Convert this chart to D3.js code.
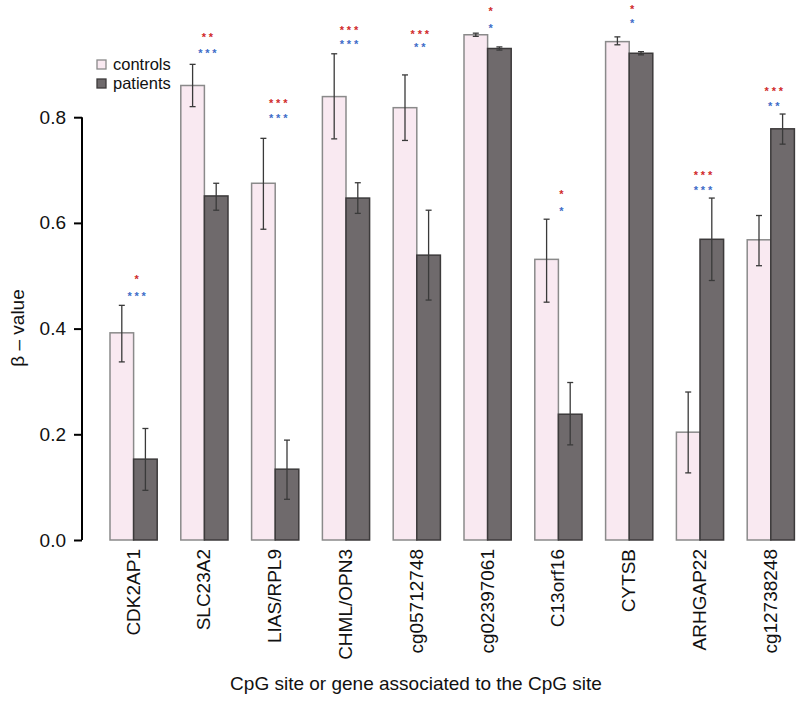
<!DOCTYPE html>
<html><head><meta charset="utf-8">
<script src="https://cdn.jsdelivr.net/npm/d3@7"></script>
<style>body{margin:0;background:#fff}svg{display:block;font-family:"Liberation Sans",Arial,Helvetica,sans-serif}</style>
</head><body>
<svg id="chart" width="798" height="702"></svg>
<script>
const categories = ["CDK2AP1","SLC23A2","LIAS/RPL9","CHML/OPN3","cg05712748","cg02397061","C13orf16","CYTSB","ARHGAP22","cg12738248"];
const controls     = [0.392,0.860,0.675,0.839,0.818,0.956,0.531,0.943,0.204,0.568];
const controlsLow  = [0.337,0.820,0.588,0.759,0.756,0.953,0.450,0.937,0.127,0.519];
const controlsHigh = [0.444,0.900,0.760,0.920,0.880,0.959,0.607,0.952,0.280,0.614];
const patients     = [0.153,0.651,0.134,0.647,0.539,0.930,0.238,0.921,0.569,0.778];
const patientsLow  = [0.094,0.624,0.077,0.618,0.454,0.927,0.180,0.918,0.491,0.749];
const patientsHigh = [0.211,0.675,0.189,0.676,0.624,0.933,0.298,0.924,0.647,0.806];
const redStars  = ["*","**","***","***","***","*","*","*","***","***"];
const blueStars = ["***","***","***","***","**","*","*","*","***","**"];
const redLevel  = [0.498,0.957,0.831,0.969,0.962,1.006,0.660,1.010,0.696,0.855];
const blueLevel = [0.467,0.927,0.804,0.944,0.937,0.974,0.628,0.984,0.668,0.827];
const yTicks = [0,0.2,0.4,0.6,0.8];
const seriesNames = ["controls","patients"];

const svg = d3.select("#chart");
const x = d3.scaleLinear().domain([0,30]).range([86.4,794.4]);
const y = d3.scaleLinear().domain([0,1]).range([540,11.5]);

const ctrlFill="#f9e9f1", ctrlStroke="#8a8a8a", patFill="#6f6a6c", patStroke="#3c3a3b";

// bars
const g = svg.append("g");
categories.forEach((c,i)=>{
  const u = 3*i+1;
  g.append("rect").attr("x",x(u)).attr("width",x(u+1)-x(u))
    .attr("y",y(controls[i])).attr("height",y(0)-y(controls[i]))
    .attr("fill",ctrlFill).attr("stroke",ctrlStroke).attr("stroke-width",1.5);
  g.append("rect").attr("x",x(u+1)).attr("width",x(u+2)-x(u+1))
    .attr("y",y(patients[i])).attr("height",y(0)-y(patients[i]))
    .attr("fill",patFill).attr("stroke",patStroke).attr("stroke-width",1.5);
});
// error bars
function err(cx,lo,hi){
  const e = svg.append("g").attr("stroke","#3a3a3a").attr("stroke-width",1.3);
  e.append("line").attr("x1",cx).attr("x2",cx).attr("y1",y(lo)).attr("y2",y(hi));
  e.append("line").attr("x1",cx-3).attr("x2",cx+3).attr("y1",y(lo)).attr("y2",y(lo));
  e.append("line").attr("x1",cx-3).attr("x2",cx+3).attr("y1",y(hi)).attr("y2",y(hi));
}
categories.forEach((c,i)=>{
  const u = 3*i+1;
  err(x(u+0.5),controlsLow[i],controlsHigh[i]);
  err(x(u+1.5),patientsLow[i],patientsHigh[i]);
});
// stars
function stars(cx,level,str,color){
  svg.append("text").attr("x",cx+1.4).attr("y",y(level)).attr("dy","0.6em")
    .attr("text-anchor","middle").attr("font-size",11).attr("font-weight","bold")
    .attr("letter-spacing",2.8).attr("fill",color).text(str);
}
categories.forEach((c,i)=>{
  const cx = x(3*i+2)+3;
  stars(cx,redLevel[i],redStars[i],"#d02a2a");
  stars(cx,blueLevel[i],blueStars[i],"#3d6cc8");
});

// y axis
const ax = svg.append("g").attr("transform","translate(82,0)")
  .call(d3.axisLeft(y).tickValues(yTicks).tickFormat(d3.format(".1f")).tickSize(8).tickSizeOuter(0).tickPadding(8));
ax.select(".domain").attr("stroke","#000").attr("stroke-width",2).attr("d",`M0,${y(0)}V${y(0.8)}`);
ax.selectAll(".tick line").attr("stroke","#000").attr("stroke-width",2);
ax.selectAll(".tick text").attr("font-size",19).attr("fill","#111").attr("font-family","Liberation Sans, Arial, sans-serif");

svg.append("text").attr("transform","translate(24,328) rotate(-90)")
  .attr("text-anchor","middle").attr("font-size",19).attr("fill","#111").text("β – value");

// x labels
categories.forEach((c,i)=>{
  const cx = x(3*i+2)-1;
  svg.append("text").attr("transform",`translate(${cx+7},549) rotate(-90)`)
    .attr("text-anchor","end").attr("font-size",19).attr("fill","#111").text(c);
});
svg.append("text").attr("x",416).attr("y",690).attr("text-anchor","middle")
  .attr("font-size",19).attr("fill","#111").text("CpG site or gene associated to the CpG site");

// legend
const leg = svg.append("g");
seriesNames.forEach((s,i)=>{
  const yy = 60 + i*19;
  leg.append("rect").attr("x",97).attr("y",yy).attr("width",9).attr("height",9)
    .attr("fill",i?patFill:ctrlFill).attr("stroke",i?patStroke:ctrlStroke).attr("stroke-width",1.3);
  leg.append("text").attr("x",113).attr("y",yy+9.5).attr("font-size",16.5).attr("fill","#111").text(s);
});
</script>
</body></html>
